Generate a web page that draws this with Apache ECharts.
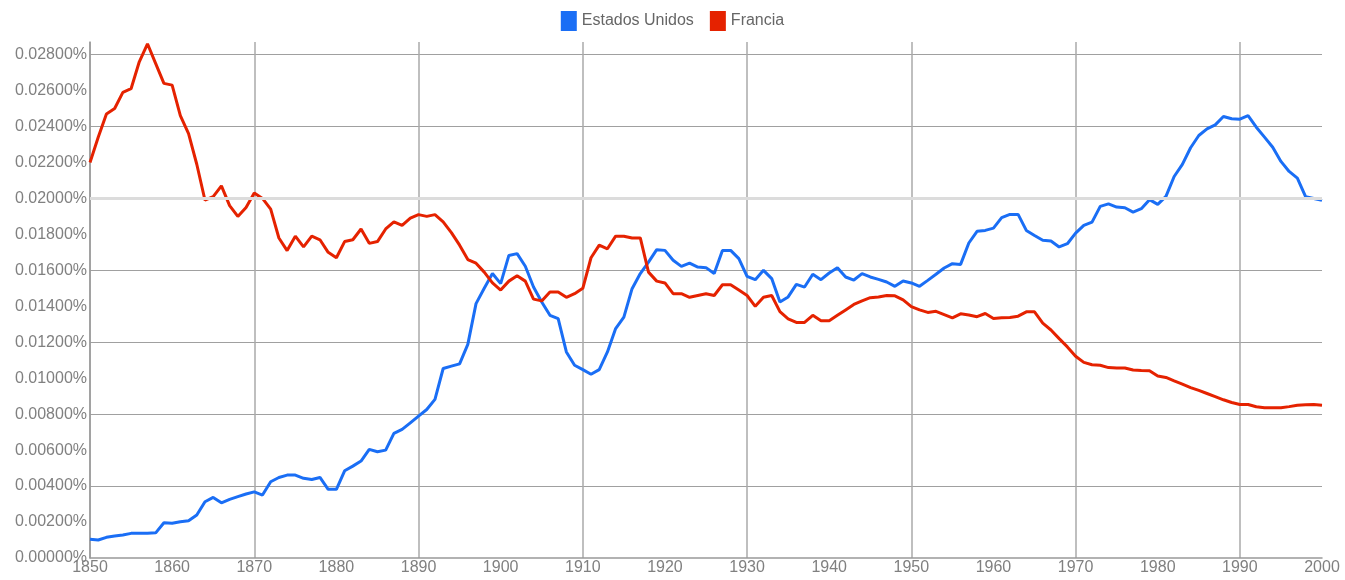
<!DOCTYPE html>
<html>
<head>
<meta charset="utf-8">
<script src="https://cdn.jsdelivr.net/npm/echarts@6/dist/echarts.min.js"></script>
<style>
  html, body { margin: 0; padding: 0; background: #fff; }
  #chart { width: 1345px; height: 580px; }
</style>
</head>
<body>
<div id="chart"></div>
<script>
// años 1850..2000
const years = [];
for (let y = 1850; y <= 2000; y++) years.push(String(y));

const seriesNames = ['Estados Unidos', 'Francia'];

// valores en %
const estadosUnidos = [
  0.00104, 0.00100, 0.00115, 0.00122, 0.00128, 0.00137, 0.00137, 0.00137, 0.00140, 0.00196,
  0.00193, 0.00202, 0.00207, 0.00239, 0.00313, 0.00337, 0.00307, 0.00326, 0.00341, 0.00356,
  0.00368, 0.00350, 0.00424, 0.00448, 0.00461, 0.00461, 0.00443, 0.00437, 0.00448, 0.00382,
  0.00382, 0.00485, 0.00511, 0.00539, 0.00604, 0.00591, 0.00600, 0.00693, 0.00715, 0.00752,
  0.00789, 0.00826, 0.00882, 0.01054, 0.01067, 0.01080, 0.01188, 0.01415, 0.01500, 0.01582,
  0.01526, 0.01683, 0.01693, 0.01623, 0.01507, 0.01424, 0.01350, 0.01331, 0.01146, 0.01072,
  0.01048, 0.01022, 0.01048, 0.01146, 0.01276, 0.01340, 0.01498, 0.01582, 0.01646, 0.01715,
  0.01711, 0.01656, 0.01622, 0.01640, 0.01618, 0.01615, 0.01582, 0.01711, 0.01711, 0.01665,
  0.01567, 0.01548, 0.01600, 0.01554, 0.01424, 0.01452, 0.01522, 0.01507, 0.01578, 0.01548,
  0.01585, 0.01615, 0.01563, 0.01546, 0.01582, 0.01563, 0.01550, 0.01535, 0.01511, 0.01541,
  0.01530, 0.01511, 0.01544, 0.01578, 0.01613, 0.01637, 0.01633, 0.01752, 0.01817, 0.01822,
  0.01835, 0.01893, 0.01911, 0.01911, 0.01822, 0.01794, 0.01767, 0.01763, 0.01730, 0.01748,
  0.01807, 0.01850, 0.01868, 0.01956, 0.01970, 0.01952, 0.01948, 0.01924, 0.01943, 0.01993,
  0.01967, 0.02011, 0.02122, 0.02189, 0.02282, 0.02350, 0.02387, 0.02409, 0.02456, 0.02443,
  0.02441, 0.02461, 0.02396, 0.02341, 0.02285, 0.02206, 0.02150, 0.02113, 0.02010, 0.02000,
  0.01989
];

const francia = [
  0.0220, 0.0234, 0.0247, 0.0250, 0.0259, 0.0261, 0.0276, 0.0286, 0.0275, 0.0264,
  0.0263, 0.0246, 0.0236, 0.0219, 0.0199, 0.0201, 0.0207, 0.0196, 0.0190, 0.0195,
  0.0203, 0.0200, 0.0194, 0.0178, 0.0171, 0.0179, 0.0173, 0.0179, 0.0177, 0.0170,
  0.0167, 0.0176, 0.0177, 0.0183, 0.0175, 0.0176, 0.0183, 0.0187, 0.0185, 0.0189,
  0.0191, 0.0190, 0.0191, 0.0187, 0.0181, 0.0174, 0.0166, 0.0164, 0.0159, 0.0153,
  0.0149, 0.0154, 0.0157, 0.0154, 0.0144, 0.0143, 0.0148, 0.0148, 0.0145, 0.0147,
  0.0150, 0.0167, 0.0174, 0.0172, 0.0179, 0.0179, 0.0178, 0.0178, 0.0159, 0.0154,
  0.0153, 0.0147, 0.0147, 0.0145, 0.0146, 0.0147, 0.0146, 0.0152, 0.0152, 0.0149,
  0.0146, 0.0140, 0.0145, 0.0146, 0.0137, 0.0133, 0.0131, 0.0131, 0.0135, 0.0132,
  0.0132, 0.0135, 0.0138, 0.0141, 0.0143, 0.01448, 0.01452, 0.0146, 0.01458, 0.01436,
  0.01398, 0.0138, 0.01366, 0.01372, 0.01354, 0.01336, 0.01358, 0.01352, 0.01342, 0.0136,
  0.01332, 0.01336, 0.01338, 0.01345, 0.01369, 0.01369, 0.01306, 0.01268, 0.0122, 0.01174,
  0.01122, 0.01088, 0.01075, 0.01072, 0.01059, 0.01057, 0.01057, 0.01046, 0.01043, 0.01041,
  0.01012, 0.01004, 0.00985, 0.00967, 0.00948, 0.00932, 0.00915, 0.00898, 0.0088, 0.00865,
  0.00854, 0.00854, 0.00841, 0.00836, 0.00835, 0.00836, 0.00842, 0.0085, 0.00852, 0.00854,
  0.0085
];

const colors = ['#1a6ef5', '#e52200'];

const chart = echarts.init(document.getElementById('chart'));

const option = {
  animation: false,
  textStyle: { fontFamily: 'Liberation Sans, Arial, sans-serif' },
  legend: {
    top: 6,
    left: 'center',
    icon: 'rect',
    itemWidth: 16,
    itemHeight: 20,
    itemGap: 16,
    textStyle: { fontSize: 16, color: '#666' },
    data: seriesNames
  },
  grid: { left: 90, right: 23, top: 42, bottom: 22 },
  xAxis: {
    type: 'category',
    data: years,
    boundaryGap: false,
    axisLine: { lineStyle: { color: '#999', width: 1.5 } },
    axisTick: { show: false },
    axisLabel: {
      interval: (i, v) => Number(v) % 10 === 0,
      color: '#808080',
      fontSize: 16,
      margin: 2
    },
    splitLine: {
      show: true,
      interval: (i, v) => Number(v) % 20 === 10,
      lineStyle: { color: '#aaa', width: 1.5 }
    }
  },
  yAxis: [
    {
      type: 'value',
      min: 0,
      max: 0.0287,
      interval: 0.002,
      axisLine: { show: true, lineStyle: { color: '#999', width: 1.5 } },
      axisTick: { show: false },
      axisLabel: {
        showMaxLabel: false,
        color: '#808080',
        fontSize: 16,
        margin: 3,
        formatter: v => v.toFixed(5) + '%'
      },
      splitLine: { show: false }
    },
    {
      type: 'value',
      min: 0,
      max: 0.0287,
      interval: 0.004,
      position: 'left',
      axisLine: { show: false },
      axisTick: { show: false },
      axisLabel: { show: false },
      splitLine: {
        show: true,
        showMinLine: false,
        showMaxLine: false,
        lineStyle: { color: '#a0a0a0', width: 1 }
      }
    }
  ],
  series: [
    {
      name: seriesNames[0],
      type: 'line',
      data: estadosUnidos,
      symbol: 'none',
      color: colors[0],
      lineStyle: { width: 3 },
      markLine: {
        silent: true,
        symbol: 'none',
        label: { show: false },
        lineStyle: { color: '#dcdcdc', width: 3, type: 'solid' },
        data: [{ yAxis: 0.02 }]
      },
      z: 3
    },
    {
      name: seriesNames[1],
      type: 'line',
      data: francia,
      symbol: 'none',
      color: colors[1],
      lineStyle: { width: 3 },
      z: 4
    }
  ]
};

chart.setOption(option);
</script>
</body>
</html>
